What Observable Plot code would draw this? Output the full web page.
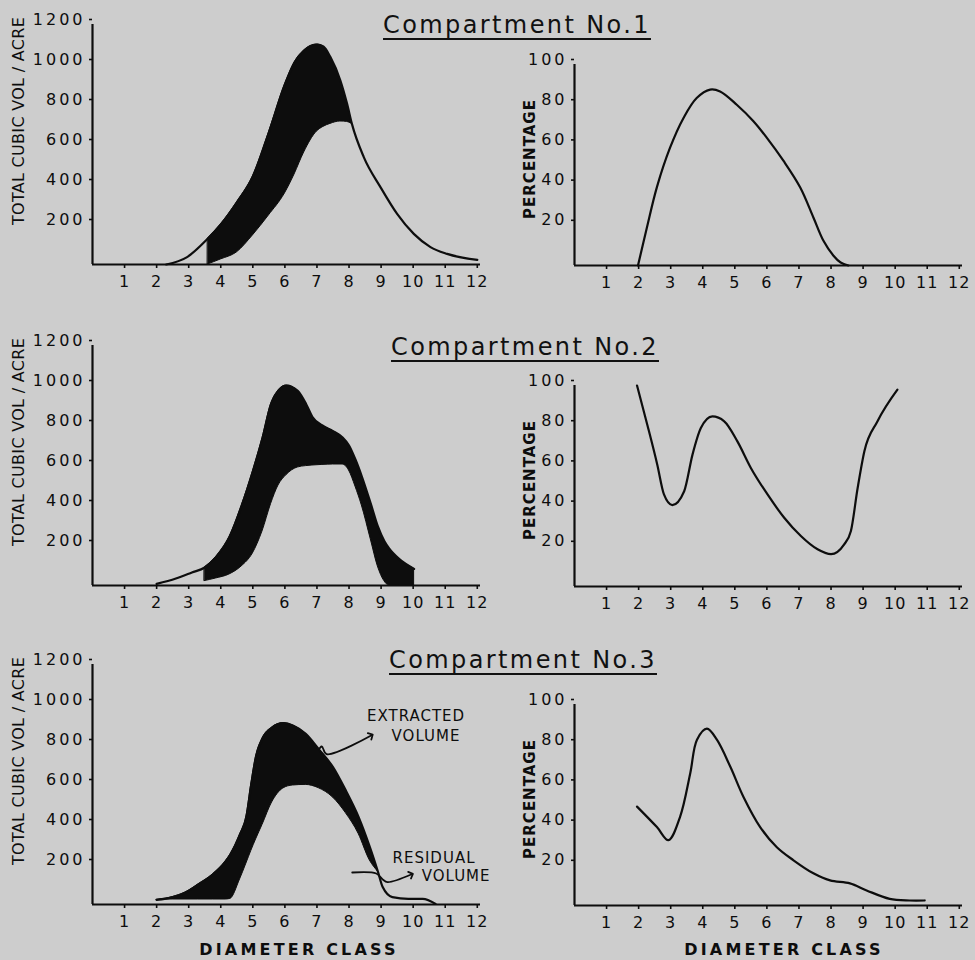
<!DOCTYPE html>
<html>
<head>
<meta charset="utf-8">
<script src="https://cdn.jsdelivr.net/npm/d3@7"></script>
<script src="https://cdn.jsdelivr.net/npm/@observablehq/plot@0.6"></script>
<style>
  html, body { margin: 0; padding: 0; background: #cdcdcd; }
  #root { position: relative; width: 975px; height: 960px; overflow: hidden; }
  .panel { position: absolute; }
  .panel svg { overflow: visible; }
  .title {
    position: absolute; white-space: nowrap; transform: translateX(-50%);
    font-family: "DejaVu Sans", sans-serif; font-size: 24px; line-height: 24px;
    letter-spacing: 2.4px; color: #111;
    text-decoration: underline; text-decoration-thickness: 2px;
    text-underline-offset: 5px; text-decoration-skip-ink: auto;
  }
</style>
</head>
<body>
<div id="root"></div>
<script>
// ---------- data ----------
const titles = ["Compartment No.1", "Compartment No.2", "Compartment No.3"];
const diameterTicks = [1, 2, 3, 4, 5, 6, 7, 8, 9, 10, 11, 12];
const volumeTicks = [200, 400, 600, 800, 1000, 1200];
const percentTicks = [20, 40, 60, 80, 100];

// Compartment 1 : total and residual volume by diameter class
const diameter1 = [2.3, 2.95, 3.6, 4.0, 4.5, 5.0, 5.5, 6.0, 6.3, 6.6, 7.0, 7.2, 7.42, 7.73, 7.94, 8.09, 8.46, 8.98, 9.5, 10.02, 10.54, 11.06, 12.0];
const total1    = [0, 37, 130, 200, 310, 440, 660, 900, 1010, 1070, 1100, 1090, 1037, 920, 803, 703, 537, 387, 253, 153, 87, 53, 23];
const residual1 = [null, null, 0, 25, 60, 145, 245, 355, 450, 560, 665, 688, 703, 715, 713, 703, null, null, null, null, null, null, null];

// Compartment 2
const diameter2 = [2.0, 2.6, 3.1, 3.5, 3.85, 4.27, 4.65, 5.0, 5.3, 5.57, 5.8, 6.05, 6.4, 6.66, 6.86, 7.17, 7.5, 7.8, 8.0, 8.2, 8.4, 8.68, 8.9, 9.1, 9.25, 9.56, 10.03];
const total2    = [8, 35, 65, 90, 142, 242, 398, 570, 736, 908, 975, 1000, 973, 908, 842, 800, 772, 740, 700, 630, 545, 408, 295, 222, 185, 133, 83];
const residual2 = [null, null, null, 22, 35, 55, 95, 160, 270, 408, 500, 552, 590, 597, 600, 603, 605, 605, 575, 495, 400, 230, 95, 22, 0, 0, 0];

// Compartment 3
const diameter3 = [2.0, 2.5, 2.9, 3.3, 3.75, 4.15, 4.3, 4.6, 4.8, 4.95, 5.1, 5.3, 5.6, 5.95, 6.25, 6.65, 7.05, 7.5, 7.9, 8.3, 8.65, 8.9, 9.05, 9.35, 9.85, 10.3, 10.7];
const total3    = [23, 37, 60, 100, 150, 215, 250, 350, 440, 600, 740, 830, 885, 907, 895, 853, 778, 687, 570, 437, 287, 165, 87, 37, 28, 28, 3];
const residual3 = [23, 25, 25, 25, 25, 25, 28, 125, 205, 267, 325, 397, 510, 580, 595, 598, 582, 535, 457, 353, 220, 165, null, null, null, null, null];

// Percentage curves
const pctDiameter1 = [1.98, 2.26, 2.57, 2.98, 3.4, 3.81, 4.23, 4.54, 5.06, 5.58, 6.0, 6.52, 7.04, 7.45, 7.76, 8.07, 8.3, 8.54];
const percent1     = [0, 19, 39, 58.6, 73.4, 83.3, 87.5, 86.6, 80, 71.8, 63.5, 52, 38.8, 23.9, 12.4, 5, 1.5, 0];
const pctDiameter2 = [1.95, 2.27, 2.58, 2.79, 3.05, 3.42, 3.68, 3.94, 4.3, 4.67, 5.08, 5.5, 6.02, 6.54, 7.06, 7.58, 8.0, 8.41, 8.62, 8.83, 9.04, 9.45, 10.07];
const percent2     = [100, 80.5, 60.7, 45.8, 40.5, 47.4, 65.6, 78.8, 84.6, 82.2, 72.2, 59, 45.8, 34.2, 25.1, 18.5, 16.1, 21, 27.6, 49, 67.3, 82.2, 97.9];
const pctDiameter3 = [1.95, 2.57, 2.93, 3.29, 3.61, 3.82, 4.13, 4.44, 4.86, 5.27, 5.79, 6.31, 6.83, 7.45, 7.97, 8.59, 9.11, 9.83, 10.45, 10.92];
const percent3     = [49.2, 39, 32.5, 44, 65.8, 82.5, 88, 82.5, 69, 54, 39, 29, 22.5, 16, 12.5, 11, 7.5, 3.3, 2.5, 2.5];

// Annotations (compartment 3, in data units)
const noteText = ["EXTRACTED", "VOLUME", "RESIDUAL", "VOLUME"];
const noteX = [10.09, 10.4, 10.65, 11.34];
const noteY = [920, 820, 210, 120];
const extractedArrowX = [6.85, 7.05, 7.15, 7.3, 8.69];
const extractedArrowY = [805, 778, 790, 752, 845];
const residualArrowX = [8.1, 8.85, 9.05, 9.2, 9.94];
const residualArrowY = [160, 155, 125, 112, 150];

// ---------- drawing ----------
const INK = "#0d0d0d";
const root = document.getElementById("root");

function place(node, left, top) {
  const div = document.createElement("div");
  div.className = "panel";
  div.style.left = left + "px";
  div.style.top = top + "px";
  div.appendChild(node);
  root.appendChild(div);
  return node;
}

const baseStyle = {
  background: "transparent",
  fontFamily: "DejaVu Sans, sans-serif",
  fontSize: "16px",
  color: INK,
  overflow: "visible"
};

function axes(yTicks, yMax) {
  return [
    Plot.ruleY([0], {stroke: INK, strokeWidth: 2.2}),
    Plot.ruleX([0], {y1: 0, y2: yMax, stroke: INK, strokeWidth: 2.2}),
    Plot.axisX(diameterTicks, {tickSize: 4, tickPadding: 7, stroke: INK, strokeWidth: 1.6, fill: INK, label: null, tickFormat: d => String(d)}),
    Plot.axisY(yTicks, {tickSize: 3, tickPadding: 4, stroke: INK, strokeWidth: 1.6, fill: INK, label: null, dy: -5, tickFormat: d => String(d)})
  ];
}

function addText(svg, txt, x, y, opts = {}) {
  return d3.select(svg).append("text")
    .attr("x", 0).attr("y", 0)
    .attr("transform", `translate(${x},${y})` + (opts.rotate ? ` rotate(${opts.rotate})` : ""))
    .attr("text-anchor", opts.anchor || "middle")
    .attr("fill", INK)
    .style("font-family", opts.family || "DejaVu Sans, sans-serif")
    .style("font-size", (opts.size || 16) + "px")
    .style("font-weight", opts.weight || "normal")
    .style("letter-spacing", (opts.spacing || 0) + "px")
    .text(txt);
}

function spaceTicks(svg) {
  d3.select(svg).selectAll('[aria-label="y-axis tick label"] text').style("letter-spacing", "3px");
  d3.select(svg).selectAll('[aria-label="x-axis tick label"] text').style("letter-spacing", "1px");
}

function leftPanel(xs, total, residual, top, height, extra = []) {
  const rows = xs.map((d, i) => ({d, total: total[i], residual: residual[i]}));
  const band = rows.filter(r => r.residual != null);
  const svg = Plot.plot({
    width: 490, height,
    marginLeft: 92, marginRight: 10, marginTop: 24, marginBottom: height - 264,
    x: {domain: [0, 12.1], axis: null},
    y: {domain: [0, 1200], axis: null},
    style: baseStyle,
    marks: [
      Plot.areaY(band, {x: "d", y1: "residual", y2: "total", curve: "monotone-x", fill: INK, stroke: INK, strokeWidth: 1}),
      Plot.line(rows, {x: "d", y: "total", curve: "monotone-x", stroke: INK, strokeWidth: 2.2}),
      ...axes(volumeTicks, 1200),
      ...extra
    ]
  });
  spaceTicks(svg);
  addText(svg, "TOTAL CUBIC VOL / ACRE", 24, 121, {rotate: -90, size: 16, spacing: 0.3});
  return place(svg, 0, top);
}

function rightPanel(xs, pct, top, height, curve) {
  const rows = xs.map((d, i) => ({d, p: pct[i]}));
  const svg = Plot.plot({
    width: 493, height,
    marginLeft: 92, marginRight: 13, marginTop: 64, marginBottom: height - 265,
    x: {domain: [0, 12.1], axis: null},
    y: {domain: [0, 100], axis: null},
    style: baseStyle,
    marks: [
      Plot.line(rows, {x: "d", y: "p", curve, stroke: INK, strokeWidth: 2.2}),
      ...axes(percentTicks, 100)
    ]
  });
  spaceTicks(svg);
  addText(svg, "PERCENTAGE", 53, 159, {rotate: -90, size: 15, weight: "bold", spacing: 1});
  return place(svg, 482, top);
}

function title(txt, cx, top) {
  const div = document.createElement("div");
  div.className = "title";
  div.style.left = cx + "px";
  div.style.top = top + "px";
  div.textContent = txt;
  root.appendChild(div);
}

// row 1
leftPanel(diameter1, total1, residual1, 0, 300);
rightPanel(pctDiameter1, percent1, 0, 300, "catmull-rom");
// row 2
leftPanel(diameter2, total2, residual2, 321, 300);
rightPanel(pctDiameter2, percent2, 321, 300, "monotone-x");
// row 3
const notes = noteText.map((t, i) => ({t, x: noteX[i], y: noteY[i]}));
const arrowE = extractedArrowX.map((x, i) => ({x, y: extractedArrowY[i]}));
const arrowR = residualArrowX.map((x, i) => ({x, y: residualArrowY[i]}));
const annotationMarks = [
  Plot.line(arrowE, {x: "x", y: "y", curve: "catmull-rom", stroke: INK, strokeWidth: 1.8, markerEnd: "arrow"}),
  Plot.line(arrowR, {x: "x", y: "y", curve: "catmull-rom", stroke: INK, strokeWidth: 1.8, markerEnd: "arrow"}),
  Plot.text(notes, {x: "x", y: "y", text: "t", lineAnchor: "bottom", fontSize: 15, fill: INK})
];
const l3 = leftPanel(diameter3, total3, residual3, 640, 320, annotationMarks);
d3.select(l3).selectAll('[aria-label="text"] text').style("letter-spacing", "1px");
const r3 = rightPanel(pctDiameter3, percent3, 640, 320, "catmull-rom");
addText(l3, "DIAMETER CLASS", 299, 315, {size: 16, weight: "bold", spacing: 3.2});
addText(r3, "DIAMETER CLASS", 302, 315, {size: 16, weight: "bold", spacing: 3.2});

// titles
title(titles[0], 517, 13);
title(titles[1], 525, 335);
title(titles[2], 523, 648);
</script>
</body>
</html>
